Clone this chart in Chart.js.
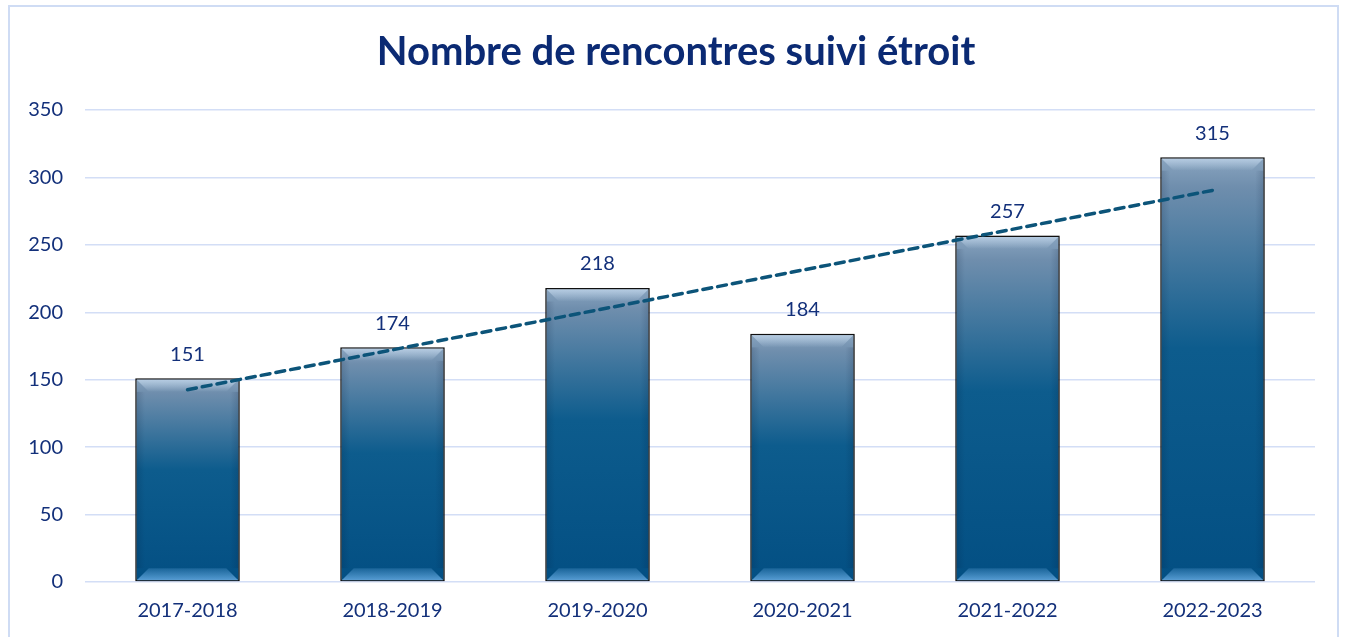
<!DOCTYPE html>
<html>
<head>
<meta charset="utf-8">
<script src="https://cdn.jsdelivr.net/npm/chart.js@4.4.1/dist/chart.umd.min.js"></script>
<style>
  html, body { margin: 0; padding: 0; background: #fff; overflow: hidden; }
  #frame {
    position: absolute; left: 8px; top: 5px; width: 1331px; height: 700px;
    border: 2px solid #cfdcf4; box-sizing: border-box;
  }
  #wrap { position: absolute; left: 0; top: 0; width: 1345px; height: 637px; }
</style>
</head>
<body>
<div id="frame"></div>
<div id="wrap"><canvas id="chart"></canvas></div>
<script>
const seasons = ["2017-2018", "2018-2019", "2019-2020", "2020-2021", "2021-2022", "2022-2023"];
const meetings = [151, 174, 218, 184, 257, 315];
// trend line end points
const trendline = [142.6, null, null, null, null, 290.4];
const yTicks = [0, 50, 100, 150, 200, 250, 300, 350];
const chartTitle = "Nombre de rencontres suivi étroit";

const navy = "#13307a";
const fontFamily = "Lato, 'Open Sans', sans-serif";

// vertical gradient for each bar, from its top down to zero
const barFill = (context) => {
  const chart = context.chart;
  const y = chart.scales.y;
  if (!chart.chartArea || !y || context.raw == null) return "#075a8f";
  const top = y.getPixelForValue(context.raw);
  const base = y.getPixelForValue(0);
  if (!Number.isFinite(top) || !Number.isFinite(base) || top === base) return "#075a8f";
  const g = chart.ctx.createLinearGradient(0, top, 0, base);
  g.addColorStop(0, "#8aa5c0");
  g.addColorStop(0.07, "#6f8ead");
  g.addColorStop(0.45, "#0d5c8d");
  g.addColorStop(1, "#034f83");
  return g;
};

// title drawn by hand so it can sit a little right of the canvas centre
const titlePlugin = {
  id: "titleText",
  afterDraw(chart) {
    const ctx = chart.ctx;
    ctx.save();
    ctx.fillStyle = "#0b2a73";
    ctx.font = "bold 40px " + fontFamily;
    ctx.textAlign = "center";
    ctx.textBaseline = "middle";
    ctx.fillText(chartTitle, 676, 52);
    ctx.restore();
  }
};

// bevel + shadow + value labels
const bevelPlugin = {
  id: "bevel",
  beforeDatasetDraw(chart, args) {
    if (chart.data.datasets[args.index].type !== "bar") return;
    const ctx = chart.ctx;
    ctx.save();
    ctx.shadowColor = "rgba(0,0,0,0.35)";
    ctx.shadowBlur = 5;
    ctx.shadowOffsetX = 1;
    ctx.shadowOffsetY = 1;
  },
  afterDatasetDraw(chart, args) {
    if (chart.data.datasets[args.index].type !== "bar") return;
    const ctx = chart.ctx;
    ctx.restore();
    const meta = chart.getDatasetMeta(args.index);
    meta.data.forEach((bar, i) => {
      const w = bar.width;
      const l = bar.x - w / 2 + 1.5, r = bar.x + w / 2 - 1.5;
      const t = bar.y + 1.5, b = bar.base - 1;
      const d = 12;
      ctx.save();
      // top bevel
      let g = ctx.createLinearGradient(0, t, 0, t + d);
      g.addColorStop(0, "rgba(200,220,240,0.7)");
      g.addColorStop(1, "rgba(200,220,240,0.0)");
      ctx.fillStyle = g;
      ctx.beginPath();
      ctx.moveTo(l, t); ctx.lineTo(r, t); ctx.lineTo(r - d, t + d); ctx.lineTo(l + d, t + d);
      ctx.closePath(); ctx.fill();
      // bottom bevel
      g = ctx.createLinearGradient(0, b - d, 0, b);
      g.addColorStop(0, "rgba(90,160,215,0.25)");
      g.addColorStop(1, "rgba(90,160,215,0.95)");
      ctx.fillStyle = g;
      ctx.beginPath();
      ctx.moveTo(l, b); ctx.lineTo(r, b); ctx.lineTo(r - d, b - d); ctx.lineTo(l + d, b - d);
      ctx.closePath(); ctx.fill();
      // side shading
      g = ctx.createLinearGradient(l, 0, r, 0);
      g.addColorStop(0, "rgba(0,20,50,0.15)");
      g.addColorStop(0.08, "rgba(0,20,50,0)");
      g.addColorStop(0.92, "rgba(0,20,50,0)");
      g.addColorStop(1, "rgba(0,20,50,0.15)");
      ctx.fillStyle = g;
      ctx.fillRect(l, t + d, r - l, b - t - 2 * d);
      ctx.restore();

      // value label
      ctx.save();
      ctx.fillStyle = navy;
      ctx.font = "20px " + fontFamily;
      ctx.textAlign = "center";
      ctx.textBaseline = "middle";
      ctx.fillText(String(meetings[i]), bar.x, bar.y - 24);
      ctx.restore();
    });
  }
};

new Chart(document.getElementById("chart"), {
  data: {
    labels: seasons,
    datasets: [
      {
        type: "line",
        label: "Tendance",
        data: trendline,
        spanGaps: true,
        borderColor: "#0c5479",
        borderWidth: 3.5,
        borderDash: [9, 6],
        borderCapStyle: "round",
        pointRadius: 0,
        order: 0
      },
      {
        type: "bar",
        label: "Nombre de rencontres",
        data: meetings,
        backgroundColor: barFill,
        borderColor: "#111",
        borderWidth: 1.5,
        borderSkipped: false,
        categoryPercentage: 1,
        barPercentage: 0.51,
        order: 1
      }
    ]
  },
  plugins: [bevelPlugin, titlePlugin],
  options: {
    responsive: true,
    maintainAspectRatio: false,
    animation: false,
    layout: { padding: { left: 0, right: 30, top: 110, bottom: 0 } },
    plugins: {
      legend: { display: false },
      tooltip: { enabled: false },
      title: { display: false }
    },
    scales: {
      x: {
        grid: { display: false, drawTicks: false },
        border: { display: false },
        ticks: { color: navy, font: { family: fontFamily, size: 20 }, padding: 17 },
        afterFit(scale) { scale.height = 55; }
      },
      y: {
        min: 0,
        max: 350,
        afterBuildTicks(scale) { scale.ticks = yTicks.map(v => ({ value: v })); },
        grid: { color: "#d3def6", lineWidth: 1.5, drawTicks: false },
        border: { display: false },
        ticks: { color: navy, font: { family: fontFamily, size: 20 }, padding: 22 },
        afterFit(scale) { scale.width = 85; }
      }
    }
  }
});
</script>
</body>
</html>
